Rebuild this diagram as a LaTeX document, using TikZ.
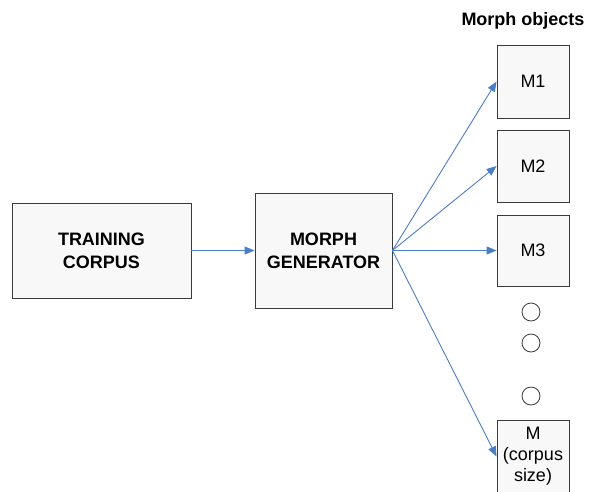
\documentclass[tikz,border=0pt]{standalone}
\usepackage{fontspec}
\setmainfont{Liberation Sans}
\usetikzlibrary{arrows.meta}
\definecolor{boxline}{HTML}{3A3A3A}
\definecolor{boxfill}{HTML}{F8F8F8}
\definecolor{flow}{HTML}{4A7EC4}
\tikzset{
  block/.style={draw=boxline, fill=boxfill, line width=0.9pt, align=center,
    inner sep=0pt, font=\fontsize{18}{23}\selectfont},
  bigblock/.style={block, font=\fontsize{18}{23}\selectfont\bfseries},
  morph/.style={block, minimum width=72pt},
  dot/.style={circle, draw=boxline, fill=white, line width=0.8pt,
    minimum size=18pt, inner sep=0pt},
  flowarrow/.style={draw=flow, line width=0.9pt,
    -{Triangle[length=10pt,width=8pt]}},
  heading/.style={font=\fontsize{18}{22}\selectfont\bfseries}
}
\begin{document}
\begin{tikzpicture}[x=1pt, y=-1pt]
  \useasboundingbox (0,0) rectangle (589,491);

  % main pipeline
  \node[bigblock, minimum width=179pt, minimum height=95pt] (corpus) at (101.5,250.5) {TRAINING\\CORPUS};
  \node[bigblock, minimum width=137pt, minimum height=115pt] (gen) at (323.5,250.5) {MORPH\\GENERATOR};

  % generated morph objects
  \node[heading] (title) at (523,21) {Morph objects};
  \node[morph, minimum height=73pt] (m1) at (533,81.5) {M1};
  \node[morph, minimum height=72pt] (m2) at (533,166) {M2};
  \node[morph, minimum height=71pt] (m3) at (533,250.5) {M3};
  \node[dot] (d1) at (531,312) {};
  \node[dot] (d2) at (531,343) {};
  \node[dot] (d3) at (531,396) {};
  \node[morph, minimum height=73pt, font=\fontsize{18}{21}\selectfont] (mn) at (533,456.5) {M\\(corpus\\size)};

  % connectors
  \draw[flowarrow] (corpus.east) -- (gen.west);
  \coordinate (src) at (gen.east);
  \draw[flowarrow] (src) -- (m1.west);
  \draw[flowarrow] (src) -- (m2.west);
  \draw[flowarrow] (src) -- (m3.west);
  \draw[flowarrow] (src) -- (mn.west);
\end{tikzpicture}
\end{document}
